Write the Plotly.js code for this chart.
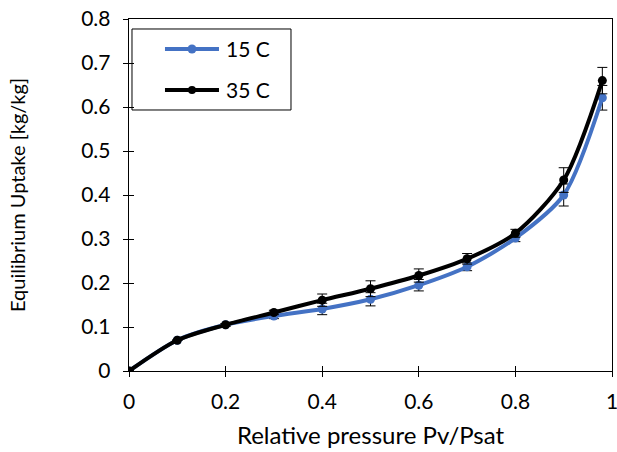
<!DOCTYPE html>
<html><head><meta charset="utf-8">
<script src="https://cdn.plot.ly/plotly-3.0.1.min.js"></script>
<style>html,body{margin:0;padding:0;background:#fff}</style>
</head><body><div id="chart" style="width:617px;height:452px"></div>
<script>
const pressure = [0, 0.1, 0.2, 0.3, 0.4, 0.5, 0.6, 0.7, 0.8, 0.9, 0.98];
const uptake15 = [0, 0.07, 0.105, 0.125, 0.141, 0.163, 0.195, 0.237, 0.302, 0.40, 0.621];
const err15    = [0, 0, 0.003, 0.006, 0.013, 0.015, 0.013, 0.009, 0.008, 0.025, 0.028];
const uptake35 = [0, 0.07, 0.105, 0.133, 0.161, 0.187, 0.217, 0.255, 0.313, 0.434, 0.66];
const err35    = [0, 0, 0.003, 0.005, 0.014, 0.018, 0.015, 0.012, 0.009, 0.028, 0.03];
const names = ['15 C', '35 C'];
const colors = ['#4472C4', '#000000'];
const xTicks = [0, 0.2, 0.4, 0.6, 0.8, 1];
const yTicks = [0, 0.1, 0.2, 0.3, 0.4, 0.5, 0.6, 0.7, 0.8];

const font = {family: 'Lato, "Open Sans", sans-serif', color: '#000'};
const series = [uptake15, uptake35];
const errs = [err15, err35];
const traces = series.map((s, i) => ({
  x: pressure, y: s, name: names[i], mode: 'lines+markers', type: 'scatter',
  line: {color: colors[i], width: 4, shape: 'spline', smoothing: 0.8},
  marker: {color: colors[i], size: 9},
  error_y: {type: 'data', array: errs[i], visible: true, color: '#000', thickness: 1, width: 5}
}));
traces.push({x: [0], y: [0], xaxis: 'x2', yaxis: 'y2', mode: 'markers', marker: {opacity: 0}, showlegend: false, hoverinfo: 'skip'});

// manual legend (paper coords of plot area)
const legRows = [0.9148, 0.7983];
const shapes = [{type: 'rect', xref: 'paper', yref: 'paper', x0: 0.0062, x1: 0.3354, y0: 0.7415, y1: 0.9716,
  line: {color: '#000', width: 1}, fillcolor: 'rgba(255,255,255,0)', layer: 'above'}];
const annotations = [];
names.forEach((n, i) => {
  shapes.push({type: 'line', xref: 'paper', yref: 'paper', x0: 0.0745, x1: 0.1863, y0: legRows[i], y1: legRows[i],
    line: {color: colors[i], width: 4}});
  const r = i === 0 ? 4.5 : 4;
  shapes.push({type: 'circle', xref: 'paper', yref: 'paper', xsizemode: 'pixel', ysizemode: 'pixel',
    xanchor: 0.1304, yanchor: legRows[i], x0: -r, x1: r, y0: -r, y1: r,
    fillcolor: colors[i], line: {color: colors[i], width: 0}});
  annotations.push({xref: 'paper', yref: 'paper', x: 0.1967, y: legRows[i], xanchor: 'left', yanchor: 'middle',
    text: n, showarrow: false, font: Object.assign({size: 21}, font)});
});

const axBase = {showgrid: false, zeroline: false, linecolor: '#000', linewidth: 1.3, mirror: true,
  ticks: 'outside', ticklen: 5, tickcolor: '#000', tickwidth: 1, showline: true, ticklabeloverflow: 'allow',
  tickfont: Object.assign({size: 21}, font)};
const layout = {
  width: 617, height: 452,
  margin: {l: 129, r: 5, t: 19, b: 81},
  paper_bgcolor: '#fff', plot_bgcolor: '#fff',
  showlegend: false,
  shapes: shapes, annotations: annotations,
  xaxis: Object.assign({}, axBase, {range: [0, 1], tickvals: xTicks, ticktext: xTicks.map(String),
    ticklabelstandoff: 6,
    title: {text: 'Relative pressure Pv/Psat', font: Object.assign({size: 24}, font), standoff: 15}}),
  yaxis: Object.assign({}, axBase, {range: [0, 0.8], tickvals: yTicks, ticktext: yTicks.map(String),
    ticklabelstandoff: 8,
    title: {text: 'Equilibrium Uptake [kg/kg]', font: Object.assign({size: 20}, font), standoff: 50}}),
  xaxis2: {overlaying: 'x', range: [0, 1], tickvals: xTicks, showticklabels: false, ticks: 'inside', ticklen: 5,
    tickcolor: '#000', showgrid: false, zeroline: false, showline: false},
  yaxis2: {overlaying: 'y', range: [0, 0.8], tickvals: yTicks, showticklabels: false, ticks: 'inside', ticklen: 5,
    tickcolor: '#000', showgrid: false, zeroline: false, showline: false}
};
Plotly.newPlot('chart', traces, layout, {displayModeBar: false, staticPlot: true});
</script></body></html>
